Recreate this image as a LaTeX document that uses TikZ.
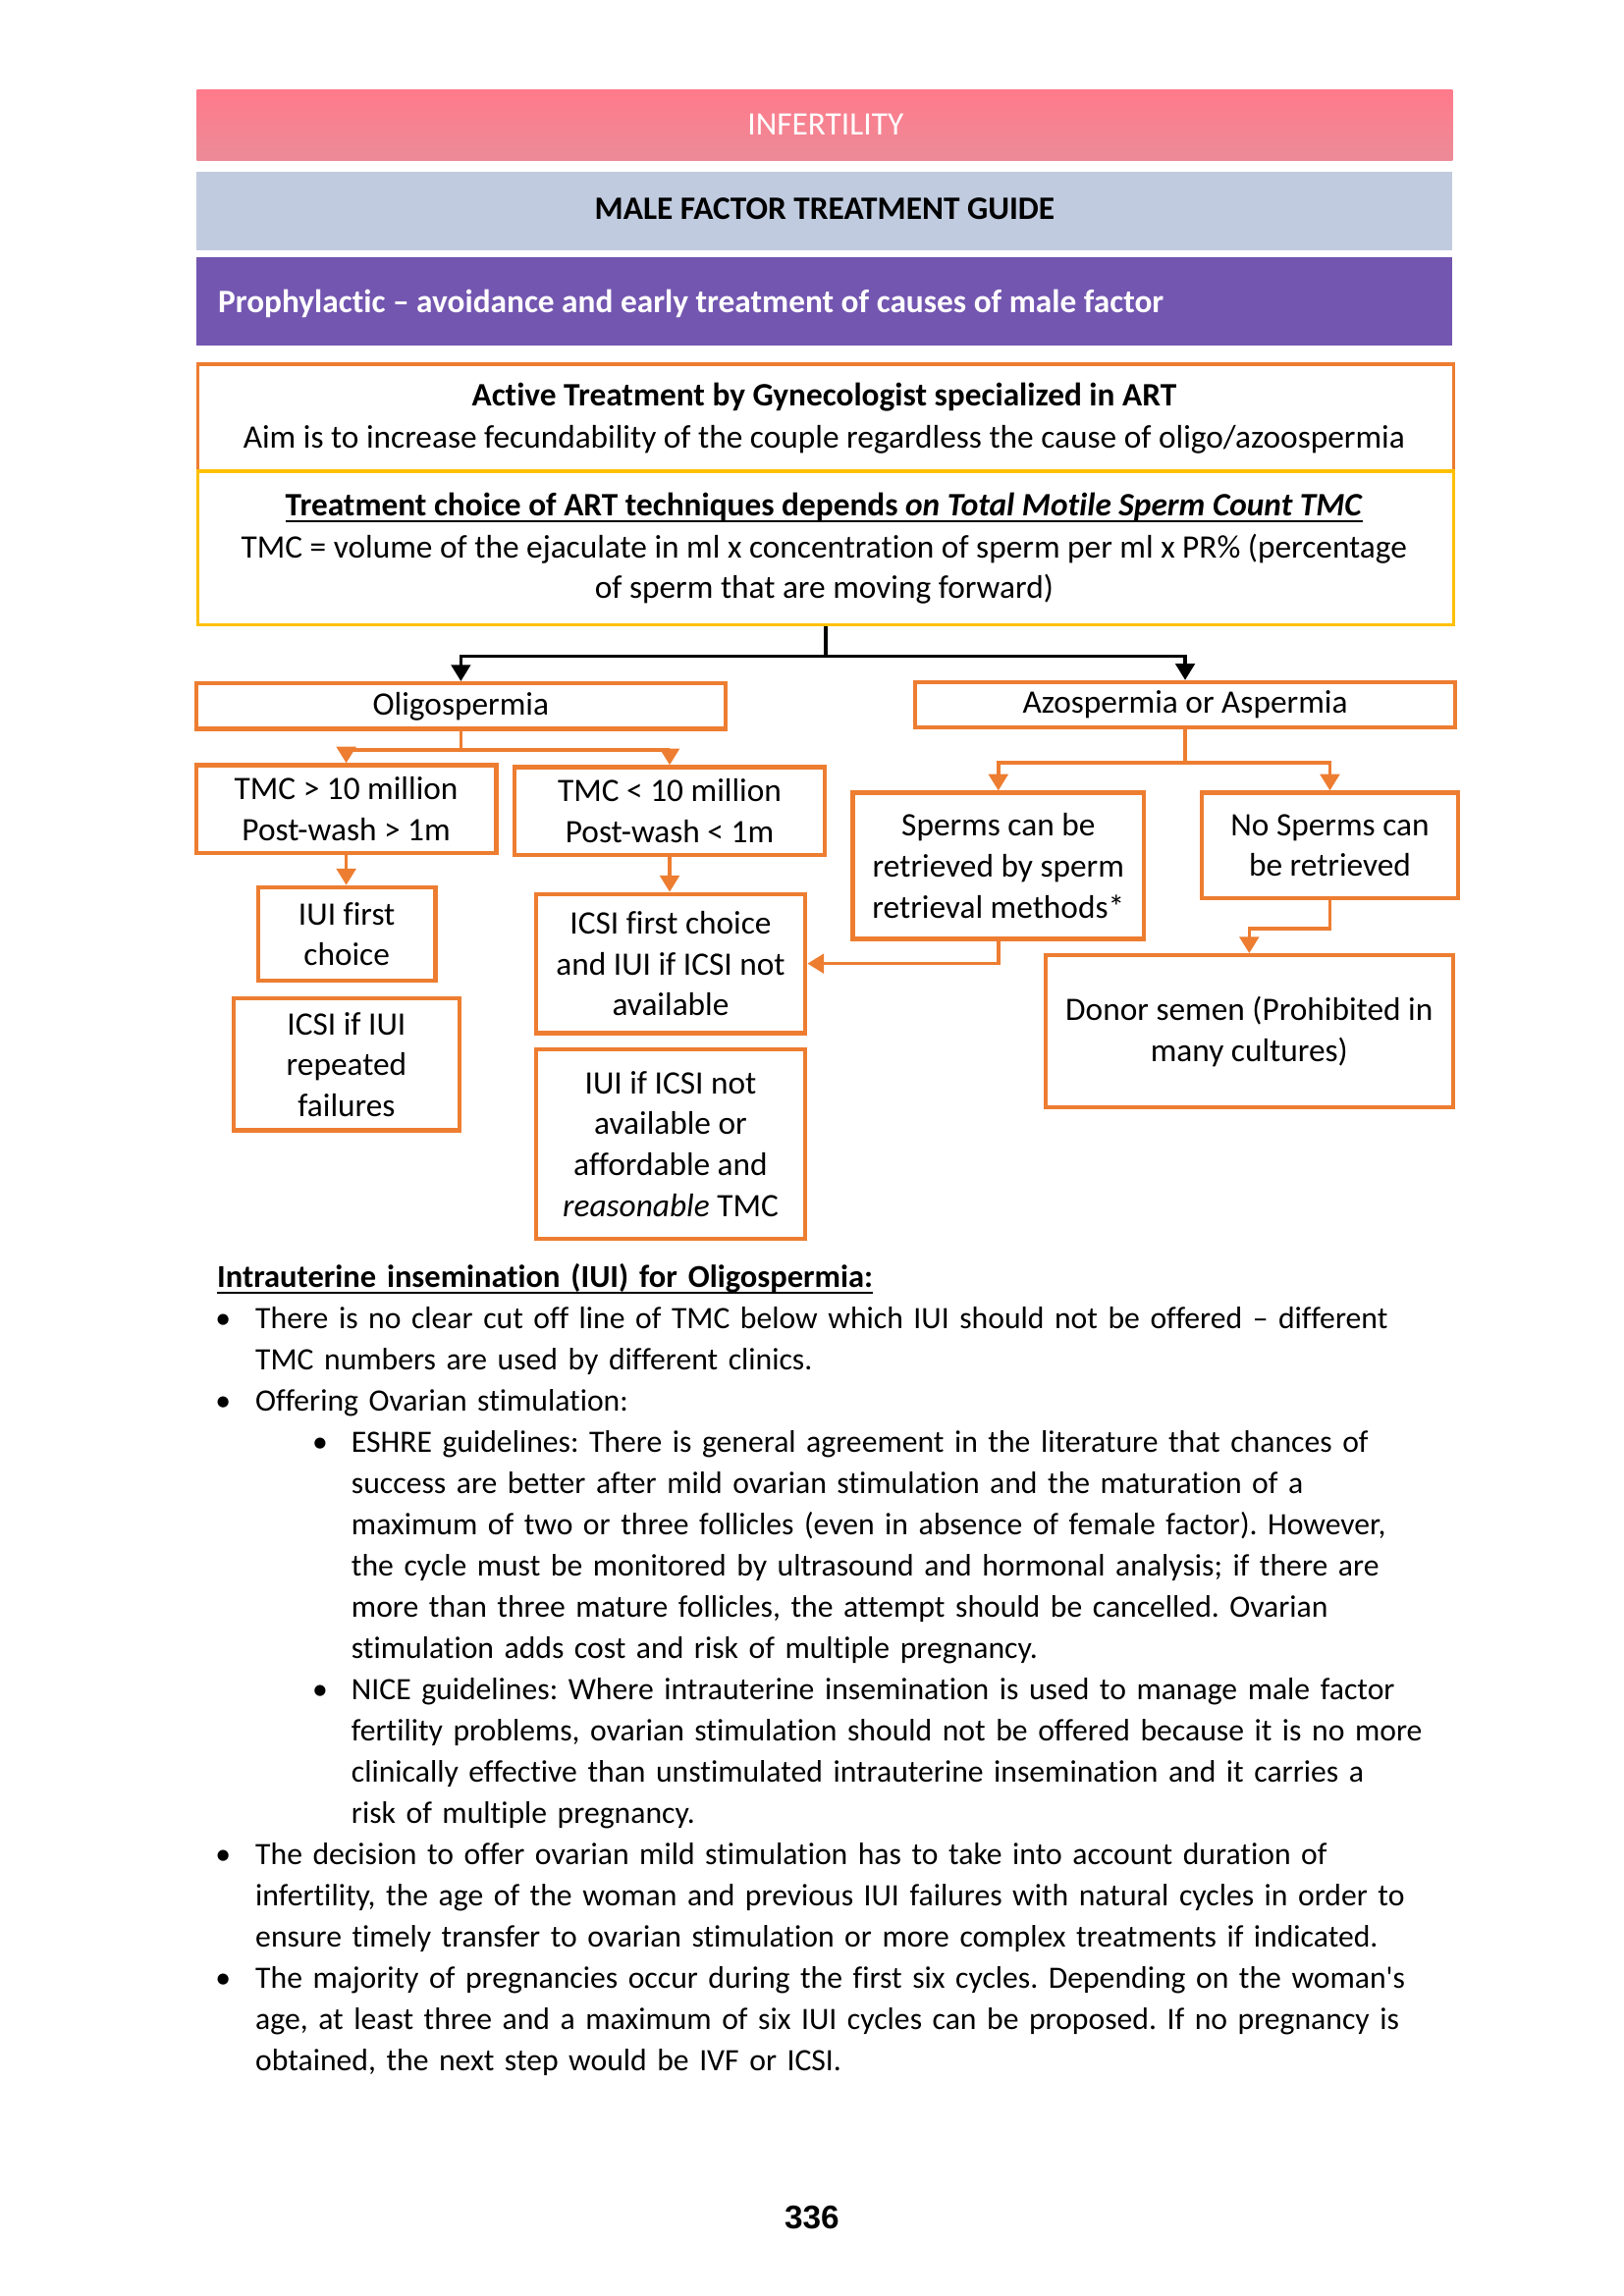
\documentclass[tikz,border=0pt]{standalone}
\usepackage{fontspec}
\setmainfont{Carlito}[Ligatures={TeX,NoCommon}]
\newfontfamily\numfont{Liberation Sans}
\newsavebox\ulbox
\newcommand\myul[1]{\sbox\ulbox{#1}\rlap{\rule[-2.3pt]{\wd\ulbox}{0.8pt}}\usebox\ulbox}
\usetikzlibrary{arrows.meta}
\definecolor{orng}{HTML}{ED7D31}
\definecolor{yel}{HTML}{FFC000}
\definecolor{pinktop}{HTML}{FF7A8B}
\definecolor{pinkbot}{HTML}{EC8B97}
\definecolor{bluegrey}{HTML}{C1CBDF}
\definecolor{purp}{HTML}{7356B0}
\tikzset{
  sz/.style 2 args={minimum width=#1*0.5363pt, minimum height=#2*0.5363pt},
  bar/.style={draw=none, inner sep=0pt, anchor=north west},
  obox/.style={draw=orng, line width=1.5pt, inner sep=0pt, align=center, font=\fontsize{12}{15}\selectfont},
  bigbox/.style={line width=1.2pt, inner sep=0pt, anchor=north west},
  oarr/.style={draw=orng, line width=1.3pt, -{Triangle[width=7pt,length=6pt]}},
  barr/.style={draw=black, line width=1.2pt, -{Triangle[width=7pt,length=6pt]}},
  txt/.style={anchor=base, inner sep=0pt, font=\fontsize{12}{15}\selectfont},
  body/.style={anchor=base west, inner sep=0pt, align=left, text width=480pt, font=\fontsize{11.4}{15.12}\selectfont},
  bul/.style={anchor=base, inner sep=0pt, font=\fontsize{11.4}{15.12}\selectfont},
}
\begin{document}
\frenchspacing
\begin{tikzpicture}[x=0.5363pt,y=-0.5363pt]
\useasboundingbox (0,0) rectangle (1110,1570);
% header bars
\node[bar, sz={858.4}{48.5}, top color=pinktop, bottom color=pinkbot] (pinkbar) at (134.2,61.1) {};
\node[txt, text=white] (t1) at (564.4,92.2) {INFERTILITY};
\node[bar, sz={858.4}{54.1}, fill=bluegrey] (bluebar) at (134.2,117) {};
\node[txt] (t2) at (563.8,149.9) {\textbf{MALE FACTOR TREATMENT GUIDE}};
\node[bar, sz={858.4}{60.4}, fill=purp] (purpbar) at (134.2,175.6) {};
\node[txt, anchor=base west, text=white] (t3) at (148.7,213.6) {\textbf{Prophylactic – avoidance and early treatment of causes of male factor}};
% big boxes
\node[bigbox, draw=orng, sz={858.4}{73.1}] (active) at (134.2,247.9) {};
\node[txt] (a1) at (563.4,277.4) {\textbf{Active Treatment by Gynecologist specialized in ART}};
\node[txt] (a2) at (563.4,306.5) {Aim is to increase fecundability of the couple regardless the cause of oligo/azoospermia};
\node[bigbox, draw=yel, sz={858.4}{105.2}] (tmc) at (134.2,321) {};
\node[txt] (b1) at (563.4,352.8) {\myul{\textbf{Treatment choice of ART techniques depends \textit{on Total Motile Sperm Count TMC}}}};
\node[txt] (b2) at (563.4,381.4) {TMC = volume of the ejaculate in ml x concentration of sperm per ml x PR\% (percentage};
\node[txt] (b3) at (563.4,409.4) {of sperm that are moving forward)};
% flowchart boxes
\node[obox, sz={361.9}{31.2}] (oligo) at (315.05,482.8) {Oligospermia};
\node[obox, sz={369.2}{30.9}] (azo) at (810.2,481.85) {Azospermia or Aspermia};
\node[obox, sz={205.2}{60}] (tmc1) at (236.7,553.2) {TMC > 10 million\\Post-wash > 1m};
\node[obox, sz={212.4}{60.1}] (tmc2) at (457.8,554.55) {TMC < 10 million\\Post-wash < 1m};
\node[obox, sz={121.3}{64.1}] (iui1) at (237.05,638.65) {IUI first\\choice};
\node[obox, sz={154}{90.1}] (icsirep) at (236.9,727.85) {ICSI if IUI\\repeated\\failures};
\node[obox, sz={184.3}{95.2}] (icsi1) at (458.45,658.9) {ICSI first choice\\and IUI if ICSI not\\available};
\node[obox, sz={184.3}{129.9}] (iui2) at (458.45,782.25) {IUI if ICSI not\\available or\\affordable and\\\textit{reasonable} TMC};
\node[obox, sz={199}{100}] (sperms) at (682.5,592) {Sperms can be\\retrieved by sperm\\retrieval methods*};
\node[obox, sz={175.3}{72.1}] (nosperms) at (909.15,578.05) {No Sperms can\\be retrieved};
\node[obox, sz={278.8}{104.1}] (donor) at (854,705.25) {Donor semen (Prohibited in\\many cultures)};
% connectors
\draw[barr] (tmc.south) -- ++(0,20.3) -| (oligo.north);
\draw[barr] (tmc.south) -- ++(0,20.3) -| (azo.north);
\draw[oarr] (oligo.south) -- ++(0,12.9) -| (tmc1.north);
\draw[oarr] (oligo.south) -- ++(0,12.9) -| (tmc2.north);
\draw[oarr] (tmc1.south) -- (tmc1.south |- iui1.north);
\draw[oarr] (tmc2.south) -- (tmc2.south |- icsi1.north);
\draw[oarr] (azo.south) -- ++(0,22.8) -| (sperms.north);
\draw[oarr] (azo.south) -- ++(0,22.8) -| (nosperms.north);
\draw[oarr] (nosperms.south) -- ++(0,19.5) -| (donor.north);
\draw[oarr] (sperms.south) |- (icsi1.east);
% body text
\node[body, font=\fontsize{11.7}{15.12}\selectfont\bfseries] (head) at (148.1,880.3) {\myul{Intrauterine insemination (IUI) for Oligospermia:}};
\node[bul] (u1) at (152.6,908.3) {•};
\node[body] (p1) at (174.3,908.3) {There is no clear cut off line of TMC below which IUI should not be offered – different\\TMC numbers are used by different clinics.};
\node[bul] (u2) at (152.6,964.7) {•};
\node[body] (p2) at (174.3,964.7) {Offering Ovarian stimulation:};
\node[bul] (u3) at (218.8,992.9) {•};
\node[body] (p3) at (239.9,992.9) {ESHRE guidelines: There is general agreement in the literature that chances of\\success are better after mild ovarian stimulation and the maturation of a\\maximum of two or three follicles (even in absence of female factor). However,\\the cycle must be monitored by ultrasound and hormonal analysis; if there are\\more than three mature follicles, the attempt should be cancelled. Ovarian\\stimulation adds cost and risk of multiple pregnancy.};
\node[bul] (u4) at (218.8,1162.1) {•};
\node[body] (p4) at (239.9,1162.1) {NICE guidelines: Where intrauterine insemination is used to manage male factor\\fertility problems, ovarian stimulation should not be offered because it is no more\\clinically effective than unstimulated intrauterine insemination and it carries a\\risk of multiple pregnancy.};
\node[bul] (u5) at (152.6,1274.9) {•};
\node[body] (p5) at (174.3,1274.9) {The decision to offer ovarian mild stimulation has to take into account duration of\\infertility, the age of the woman and previous IUI failures with natural cycles in order to\\ensure timely transfer to ovarian stimulation or more complex treatments if indicated.};
\node[bul] (u6) at (152.6,1359.5) {•};
\node[body] (p6) at (174.3,1359.5) {The majority of pregnancies occur during the first six cycles. Depending on the woman\textquotesingle s\\age, at least three and a maximum of six IUI cycles can be proposed. If no pregnancy is\\obtained, the next step would be IVF or ICSI.};
\node[txt, font=\numfont\fontsize{12}{14}\selectfont\bfseries] (pg) at (555,1524) {336};
\end{tikzpicture}
\end{document}
